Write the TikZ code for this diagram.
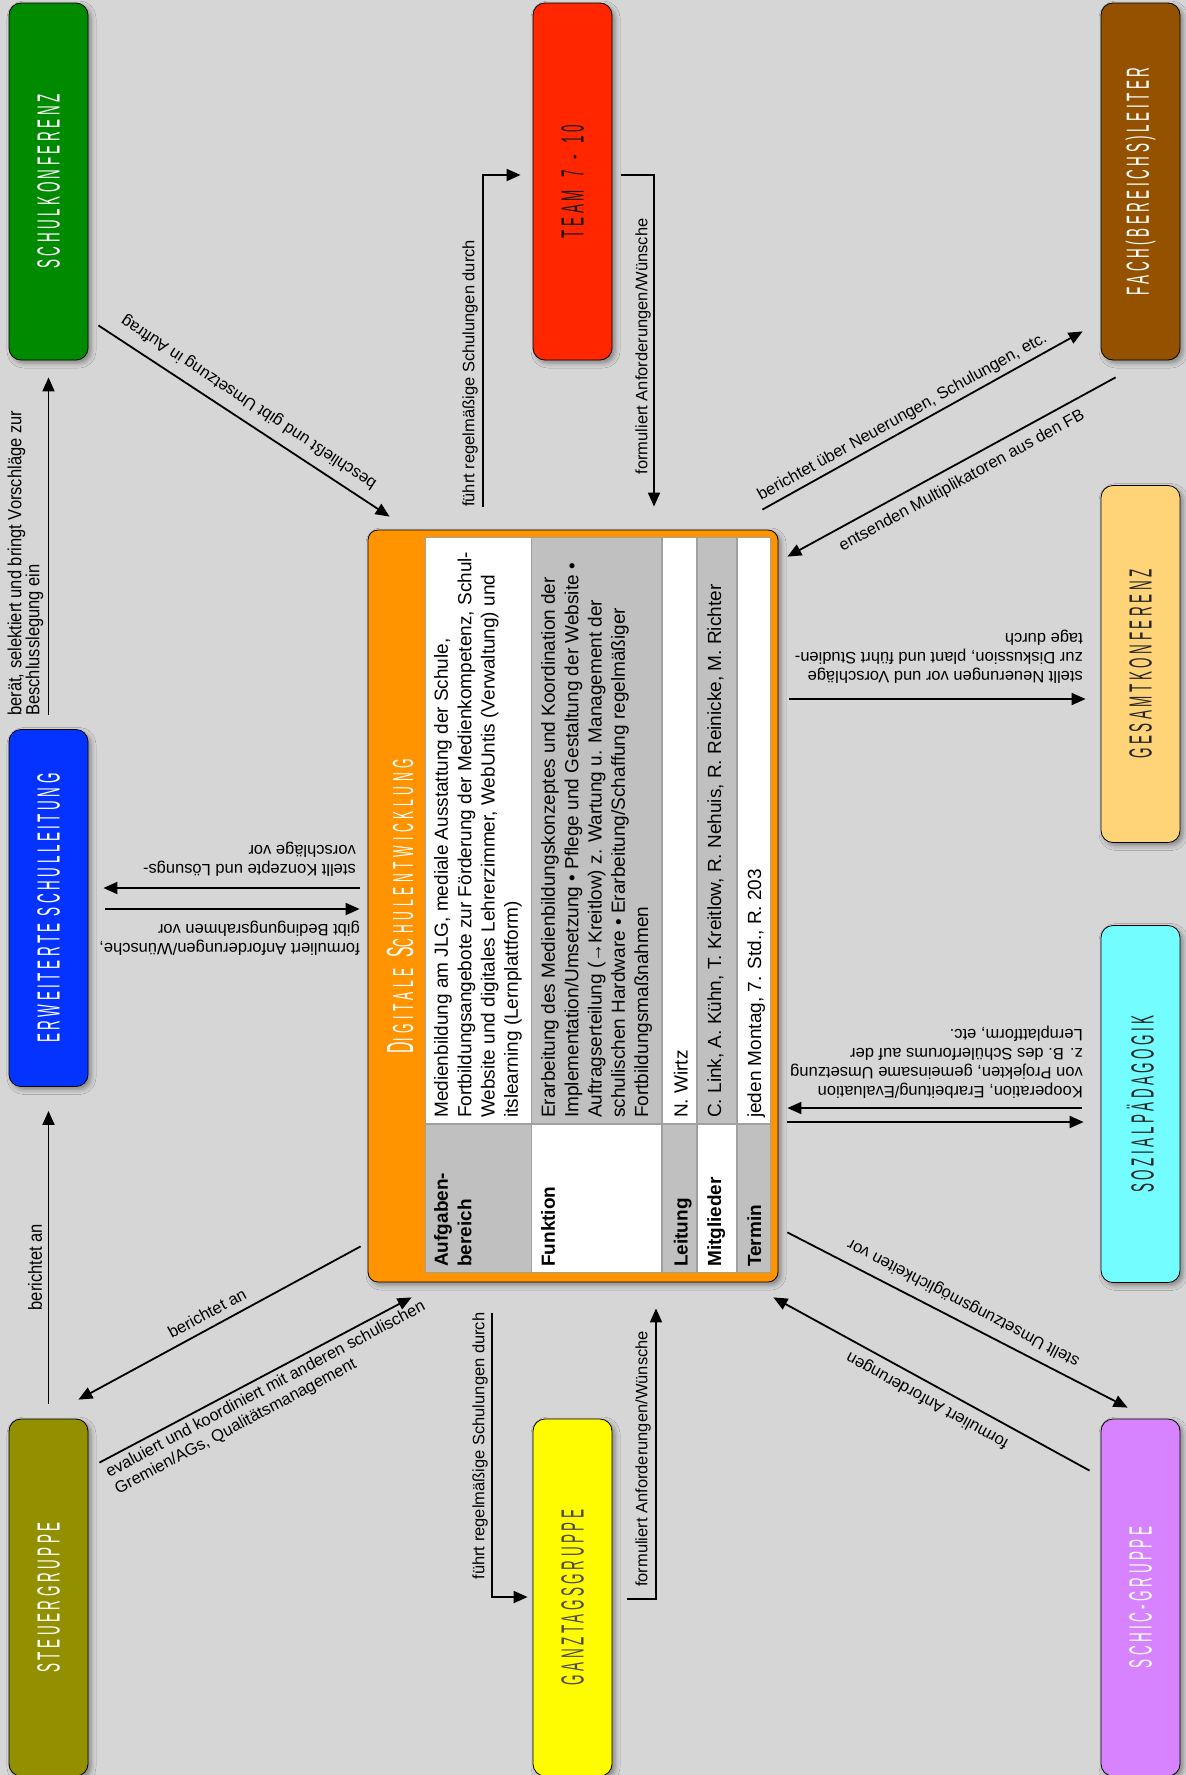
\documentclass[tikz,border=0pt]{standalone}
\usepackage{fontspec}
\setmainfont{Liberation Sans}
\newfontfamily\capfont[FakeStretch=0.42,LetterSpace=11]{Liberation Sans}
\newfontfamily\titlefont[FakeStretch=0.42,LetterSpace=16]{Liberation Sans}
\newfontfamily\condfont[FakeStretch=0.87]{Liberation Sans}
\usetikzlibrary{arrows.meta,calc,shadows.blur}
\definecolor{bg}{HTML}{D6D6D6}
\definecolor{clover}{HTML}{008A00}
\definecolor{maraschino}{HTML}{FF2600}
\definecolor{mocha}{HTML}{945200}
\definecolor{cantaloupe}{HTML}{FFD479}
\definecolor{blueberry}{HTML}{0433FF}
\definecolor{ice}{HTML}{73FDFF}
\definecolor{asparagus}{HTML}{929000}
\definecolor{lemon}{HTML}{FFFB00}
\definecolor{lavender}{HTML}{D783FF}
\definecolor{tangerine}{HTML}{FF9300}
\definecolor{tgrey}{HTML}{C0C0C0}
\definecolor{tline}{HTML}{A0A0A0}
\newcommand\grplabel[2]{\rotatebox{90}{\color{#1}\capfont\fontsize{32}{32}\selectfont #2}}
\tikzset{
 grp/.style={draw=black, line width=0.8pt, rounded corners=12pt, minimum width=79pt, minimum height=357pt, inner sep=0pt,
   blur shadow={shadow xshift=3pt, shadow yshift=-3pt, shadow blur radius=5pt, shadow opacity=40}},
 arr/.style={line width=1.8pt, -{Triangle[length=14pt,width=12pt]}},
 lab/.style={font=\fontsize{16.5}{19}\selectfont, inner sep=0pt, align=left},
 clab/.style={font=\condfont\fontsize{19}{18}\selectfont, inner sep=0pt, align=left},
 cell/.style={font=\fontsize{19}{23.3}\selectfont, inner sep=0pt, align=left, rotate=90},
 cellb/.style={font=\fontsize{19}{23.3}\selectfont\bfseries, inner sep=0pt, align=left, rotate=90},
}
\begin{document}
\begin{tikzpicture}[x=1pt,y=-1pt]
\useasboundingbox (0,0) rectangle (1186,1775);
\fill[bg] (0,0) rectangle (1186,1775);

% group boxes
\node[grp, fill=clover] (sk) at (48.5,181.5) {\grplabel{white}{SCHULKONFERENZ}};
\node[grp, fill=maraschino] (team) at (572.5,181.5) {\grplabel{black!90}{TEAM\hspace{5pt} 7\hspace{4pt} -\hspace{4pt} 10}};
\node[grp, fill=mocha] (fach) at (1140.5,181.5) {\grplabel{white}{FACH(BEREICHS)LEITER}};
\node[grp, fill=cantaloupe] (gk) at (1140.5,664) {\grplabel{black!85}{GESAMTKONFERENZ}};
\node[grp, fill=blueberry] (esl) at (48.5,908) {\grplabel{white}{ERWEITERTE SCHULLEITUNG}};
\node[grp, fill=ice] (soz) at (1140.5,1104) {\grplabel{black!85}{SOZIALPÄDAGOGIK}};
\node[grp, fill=asparagus] (steuer) at (48.5,1597.5) {\grplabel{white}{STEUERGRUPPE}};
\node[grp, fill=lemon] (gtg) at (572.5,1597.5) {\grplabel{black!70}{GANZTAGSGRUPPE}};
\node[grp, fill=lavender] (schic) at (1140.5,1597.5) {\grplabel{white}{SCHIC-GRUPPE}};

% central box
\node[draw=black, line width=0.8pt, fill=tangerine, rounded corners=10pt, minimum width=410pt, minimum height=752pt, inner sep=0pt,
  blur shadow={shadow xshift=3pt, shadow yshift=-3pt, shadow blur radius=5pt, shadow opacity=40}] (dsw) at (573,906) {};
\node[rotate=90, anchor=base, text=white, inner sep=0pt] (dswtitle) at (413,906)
  {\titlefont\fontsize{37.7}{38}\selectfont D{\fontsize{29}{30}\selectfont IGITALE} S{\fontsize{29}{30}\selectfont CHULENTWICKLUNG}};

% table
\fill[tline] (425,537) rectangle (771,1273);
\fill[white] (426,538) rectangle (530.5,1123);
\fill[tgrey] (426,1124.5) rectangle (530.5,1272);
\fill[tgrey] (532,538) rectangle (660.5,1123);
\fill[white] (532,1124.5) rectangle (660.5,1272);
\fill[white] (662.5,538) rectangle (696,1123);
\fill[tgrey] (662.5,1124.5) rectangle (696,1272);
\fill[tgrey] (698,538) rectangle (735.5,1123);
\fill[white] (698,1124.5) rectangle (735.5,1272);
\fill[white] (737.5,538) rectangle (770,1123);
\fill[tgrey] (737.5,1124.5) rectangle (770,1272);

\node[cellb, anchor=north west] (t1l) at (434,1267) {Aufgaben-\\bereich};
\node[cell, anchor=north west] (t1c) at (434,1118) {Medienbildung am JLG, mediale Ausstattung der Schule,\\Fortbildungsangebote zur Förderung der Medienkompetenz, Schul-\\Website und digitales Lehrerzimmer, WebUntis (Verwaltung) und\\itslearning (Lernplattform)};
\node[cellb, anchor=north west] (t2l) at (541,1267) {Funktion};
\node[cell, anchor=north west] (t2c) at (541,1118) {Erarbeitung des Medienbildungskonzeptes und Koordination der\\Implementation/Umsetzung • Pflege und Gestaltung der Website •\\Auftragserteilung (→Kreitlow) z. Wartung u. Management der\\schulischen Hardware • Erarbeitung/Schaffung regelmäßiger\\Fortbildungsmaßnahmen};
\node[cellb, anchor=base west] (t3l) at (687.5,1267) {Leitung};
\node[cell, anchor=base west] (t3c) at (687.5,1118) {N. Wirtz};
\node[cellb, anchor=base west] (t4l) at (721,1267) {Mitglieder};
\node[cell, anchor=base west] (t4c) at (721,1118) {C. Link, A. Kühn, T. Kreitlow, R. Nehuis, R. Reinicke, M. Richter};
\node[cellb, anchor=base west] (t5l) at (761,1267) {Termin};
\node[cell, anchor=base west] (t5c) at (761,1118) {jeden Montag, 7. Std., R. 203};

% connectors
\draw[arr] ([shift={(10,-35)}]sk.south east) -- ([shift={(22,-13)}]dsw.north west);
\draw[arr] ([shift={(0,-14)}]esl.north) -- ([shift={(0,17)}]sk.south);
\draw[arr] ([shift={(0,-15)}]steuer.north) -- ([shift={(0,24)}]esl.south);
\draw[arr] ([shift={(-8,-18)}]dsw.west) -- ([shift={(15,-20)}]esl.east);
\draw[arr] ([shift={(17,1)}]esl.east) -- ([shift={(-8,3)}]dsw.west);
\draw[arr] ([shift={(-7,-36)}]dsw.south west) -- ([shift={(-10,-19)}]steuer.north east);
\draw[arr] ([shift={(11,44)}]steuer.north east) -- ([shift={(44,15)}]dsw.south west);
\draw[arr] ([shift={(-90,-23)}]dsw.north) |- ([shift={(-12,-6.5)}]team.west);
\draw[arr] ([shift={(9,-6.5)}]team.east) -| ([shift={(81,-23)}]dsw.north);
\draw[arr] ([shift={(-81,31)}]dsw.south) |- ([shift={(-5,-0.5)}]gtg.west);
\draw[arr] ([shift={(15,1.5)}]gtg.east) -| ([shift={(83,26)}]dsw.south);
\draw[arr] ([shift={(-16,-20)}]dsw.north east) -- ([shift={(-18,-29)}]fach.south west);
\draw[arr] ([shift={(15,17)}]fach.south west) -- ([shift={(9,27)}]dsw.north east);
\draw[arr] ([shift={(11,-207)}]dsw.east) -- ([shift={(-15,35)}]gk.west);
\draw[arr] ([shift={(-19,4)}]soz.west) -- ([shift={(9,202)}]dsw.east);
\draw[arr] ([shift={(9,216)}]dsw.east) -- ([shift={(-17,18)}]soz.west);
\draw[arr] ([shift={(9,-50)}]dsw.south east) -- ([shift={(27,-11)}]schic.north west);
\draw[arr] ([shift={(-11,52)}]schic.north west) -- ([shift={(-5,15)}]dsw.south east);

% labels
\node[lab, rotate=146.7] (l1) at (249,402) {beschließt und gibt Umsetzung in Auftrag};
\node[clab, rotate=90, anchor=south west] (l2) at (43.5,716) {berät, selektiert und bringt Vorschläge zur\\Beschlusslegung ein};
\node[clab, rotate=90] (l3) at (35,1267) {berichtet an};
\node[lab, rotate=180, anchor=west] (l4) at (356,859) {stellt Konzepte und Lösungs-\\vorschläge vor};
\node[lab, rotate=180, anchor=west] (l5) at (360,938) {formuliert Anforderungen/Wünsche,\\gibt Bedingungsrahmen vor};
\node[lab, rotate=28.5] (l6) at (207,1313) {berichtet an};
\node[lab, rotate=27.9, anchor=west] (l7) at (111.7,1482) {evaluiert und koordiniert mit anderen schulischen\\Gremien/AGs, Qualitätsmanagement};
\node[lab, rotate=90, anchor=west] (l8) at (470,507) {führt regelmäßige Schulungen durch};
\node[lab, rotate=90] (l9) at (643,346.5) {formuliert Anforderungen/Wünsche};
\node[lab, rotate=90] (l10) at (480,1446) {führt regelmäßige Schulungen durch};
\node[lab, rotate=90] (l11) at (643,1459) {formuliert Anforderungen/Wünsche};
\node[lab, rotate=29.1] (l12) at (902.5,417) {berichtet über Neuerungen, Schulungen, etc.};
\node[lab, rotate=28.7] (l13) at (962,481) {entsenden Multiplikatoren aus den FB};
\node[lab, rotate=180, anchor=west] (l14) at (1083,657) {stellt Neuerungen vor und Vorschläge\\zur Diskussion, plant und führt Studien-\\tage durch};
\node[lab, rotate=180, anchor=west] (l15) at (1083,1062) {Kooperation, Erarbeitung/Evaluation\\von Projekten, gemeinsame Umsetzung\\z. B. des Schülerforums auf der\\Lernplattform, etc.};
\node[lab, rotate=152.6] (l16) at (963.5,1302.5) {stellt Umsetzungsmöglichkeiten vor};
\node[lab, rotate=151.1] (l17) at (927.5,1400) {formuliert Anforderungen};
\end{tikzpicture}
\end{document}
